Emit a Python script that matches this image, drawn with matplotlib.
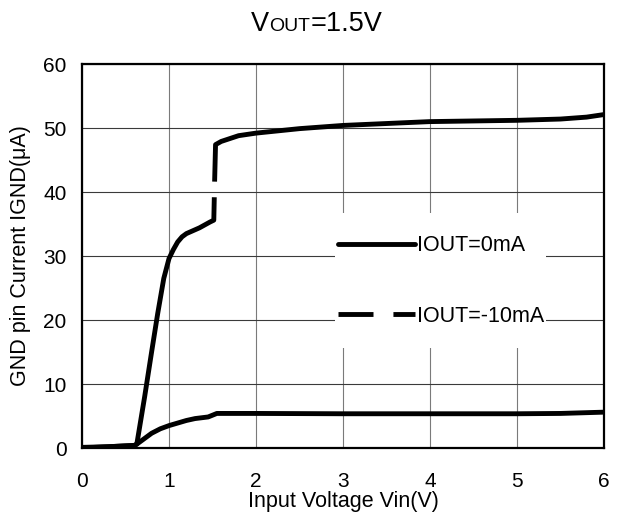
import numpy as np
import matplotlib
matplotlib.use("Agg")
import matplotlib.pyplot as plt
from matplotlib.lines import Line2D
from matplotlib.patches import Rectangle

plt.rcParams['font.family'] = ['Liberation Sans', 'DejaVu Sans']

# ---- data ----
# IOUT = 0 mA (solid, lower curve)
vin_0 = [0.0, 0.3, 0.6, 0.63, 0.7, 0.8, 0.9, 1.0, 1.1, 1.2, 1.3, 1.45, 1.55,
         2.0, 3.0, 4.0, 5.0, 5.5, 6.0]
ignd_0 = [0.1, 0.2, 0.4, 0.6, 1.3, 2.3, 3.0, 3.5, 3.9, 4.3, 4.6, 4.85, 5.4,
          5.4, 5.35, 5.35, 5.35, 5.4, 5.6]

# IOUT = -10 mA (long-dash, upper curve; the single visible gap is a NaN break)
vin_10 = [0.0, 0.3, 0.6, 0.63, 0.72, 0.80, 0.87, 0.94, 1.0, 1.05, 1.1, 1.15,
          1.2, 1.35, 1.47, 1.515, 1.52, np.nan, 1.525, 1.535, 1.6, 1.8, 2.0,
          2.5, 3.0, 3.5, 4.0, 4.5, 5.0, 5.5, 5.8, 6.0]
ignd_10 = [0.0, 0.2, 0.4, 0.6, 8.0, 15.0, 21.0, 26.5, 29.6, 31.0, 32.2, 33.0,
           33.5, 34.4, 35.3, 35.6, 38.8, np.nan, 42.0, 47.4, 47.9, 48.8, 49.2,
           49.9, 50.4, 50.7, 51.0, 51.1, 51.2, 51.4, 51.7, 52.1]

labels = ["IOUT=0mA", "IOUT=-10mA"]
xticks = [0, 1, 2, 3, 4, 5, 6]
yticks = [0, 10, 20, 30, 40, 50, 60]

# ---- figure ----
fig = plt.figure(figsize=(6.23, 5.18), dpi=100)
ax = fig.add_axes([82/623, 70/518, 522/623, 384/518])

ax.set_xlim(0, 6)
ax.set_ylim(0, 60)
ax.set_xticks(xticks)
ax.set_yticks(yticks)
ax.tick_params(axis='both', length=0, labelsize=15)
ax.tick_params(axis='x', pad=17)
ax.tick_params(axis='y', pad=11)
ax.set_axisbelow(True)
ax.xaxis.grid(True, color='#7a7a7a', lw=0.8)
ax.yaxis.grid(True, color='#3a3a3a', lw=0.8)
for s in ax.spines.values():
    s.set_linewidth(1.6)
    s.set_color('black')

lw = 3.5
ax.plot(vin_0, ignd_0, color='black', lw=lw, zorder=3, solid_joinstyle='round')
ax.plot(vin_10, ignd_10, color='black', lw=lw, zorder=3, solid_joinstyle='round')

# white legend background breaking the gridlines
ax.add_patch(Rectangle((0.485, 0.260), 0.404, 0.352, transform=ax.transAxes,
                       facecolor='white', edgecolor='none', zorder=1))
handles = [Line2D([], [], color='black', lw=lw, solid_capstyle='round'),
           Line2D([], [], color='black', lw=lw, dashes=(7.2, 4.1))]
ax.legend(handles, labels, loc='center left', bbox_to_anchor=(0.490, 0.435),
          frameon=False, fontsize=15.5, handlelength=3.58, handletextpad=0.08,
          labelspacing=2.3, borderpad=0, borderaxespad=0)

ax.set_xlabel("Input Voltage Vin(V)", fontsize=15.5, labelpad=0)
ax.set_ylabel("GND pin Current IGND(\u03bcA)", fontsize=15.5, labelpad=9)

# title with small-caps style "VOUT=1.5V"
fig.canvas.draw()
r = fig.canvas.get_renderer()
F = 19.5
parts = [("V", F), ("OUT", F * 0.72), ("=1.5V", F)]
texts = []
widths = []
for s, fs in parts:
    t = fig.text(0, 0, s, fontsize=fs, ha='left', va='baseline')
    widths.append(t.get_window_extent(renderer=r).width)
    texts.append(t)
total = sum(widths)
x = 316.5 - total / 2
for t, w in zip(texts, widths):
    t.set_position((x / 623, (518 - 31) / 518))
    x += w

fig.savefig("out.png", dpi=100)
